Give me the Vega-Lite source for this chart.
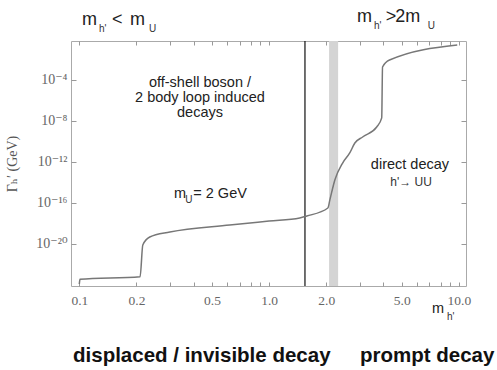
{
  "$schema": "https://vega.github.io/schema/vega-lite/v6.json",
  "autosize": "none",
  "width": 395,
  "height": 245,
  "padding": {"left": 71, "top": 41, "right": 31, "bottom": 84},
  "background": "white",
  "config": {
    "view": {"stroke": "#aaaaaa", "strokeWidth": 1},
    "axis": {"grid": false, "domain": false}
  },
  "datasets": {
    "curve": [
      {"x": 0.1, "y": 1.259e-24},
      {"x": 0.1008, "y": 3.548e-24},
      {"x": 0.209, "y": 6.31e-24},
      {"x": 0.216, "y": 7.94e-21},
      {"x": 0.235, "y": 4.79e-20},
      {"x": 0.30, "y": 1.479e-19},
      {"x": 0.62, "y": 7.08e-19},
      {"x": 1.0, "y": 1.74e-18},
      {"x": 1.45, "y": 3.47e-18},
      {"x": 1.58, "y": 5.37e-18},
      {"x": 2.04, "y": 3.24e-17},
      {"x": 2.09, "y": 2.0e-16},
      {"x": 2.22, "y": 1.74e-14},
      {"x": 2.44, "y": 7.94e-13},
      {"x": 2.66, "y": 7.59e-12},
      {"x": 2.83, "y": 7.08e-11},
      {"x": 3.11, "y": 2.75e-10},
      {"x": 3.69, "y": 2.57e-9},
      {"x": 3.92, "y": 2.0e-8},
      {"x": 3.96, "y": 1.86e-3},
      {"x": 4.31, "y": 8.91e-3},
      {"x": 9.8, "y": 0.26}
    ],
    "bigText": [
      {"x": 0.10333, "y": 23.23, "t": "m"},
      {"x": 0.14873, "y": 23.23, "t": "<"},
      {"x": 0.18494, "y": 23.23, "t": "m"},
      {"x": 2.9022, "y": 45.6, "t": "m"},
      {"x": 4.12, "y": 45.6, "t": ">"},
      {"x": 4.62, "y": 45.6, "t": "2m"}
    ],
    "subText": [
      {"x": 0.12699, "y": 4.82, "t": "h'"},
      {"x": 0.23288, "y": 4.82, "t": "U"},
      {"x": 3.567, "y": 9.46, "t": "h'"},
      {"x": 6.85, "y": 9.46, "t": "U"},
      {"x": 0.3610, "y": 1e-16, "t": "U"},
      {"x": 8.646, "y": 3.85e-28, "t": "h'"}
    ],
    "midLeft": [
      {"x": 0.31536, "y": 3.076e-16, "t": "m"},
      {"x": 0.3985, "y": 3.076e-16, "t": "= 2 GeV"},
      {"x": 7.208, "y": 1.853e-27, "t": "m"}
    ],
    "midCenter": [
      {"x": 0.4323, "y": 2.075e-5, "t": "off-shell boson /"},
      {"x": 0.4323, "y": 7.14e-7, "t": "2 body loop induced"},
      {"x": 0.4323, "y": 2.455e-8, "t": "decays"},
      {"x": 5.521, "y": 2.075e-13, "t": "direct decay"}
    ],
    "smallCenter": [
      {"x": 5.6, "y": 4.56e-15, "t": "h'→ UU"}
    ],
    "boldText": [
      {"x": 0.09265, "y": 3.076e-32, "t": "displaced / invisible decay"},
      {"x": 3.0097, "y": 3.076e-32, "t": "prompt decay"}
    ]
  },
  "resolve": {"axis": {"x": "independent", "y": "independent"}},
  "layer": [
    {
      "data": {"values": [{"lo": 2.07, "hi": 2.31}]},
      "mark": {"type": "rect", "color": "#d4d4d4"},
      "encoding": {
        "x": {"field": "lo", "type": "quantitative", "scale": {"type": "log", "domain": [0.0904, 10.9], "nice": false}, "axis": null},
        "x2": {"field": "hi"}
      }
    },
    {
      "data": {"values": [{"x": 1.545}]},
      "mark": {"type": "rule", "color": "#111111", "strokeWidth": 1.2},
      "encoding": {
        "x": {"field": "x", "type": "quantitative", "scale": {"type": "log", "domain": [0.0904, 10.9], "nice": false}, "axis": null}
      }
    },
    {
      "data": {"name": "curve"},
      "mark": {"type": "line", "color": "#777777", "strokeWidth": 1.5, "interpolate": "monotone"},
      "encoding": {
        "x": {"field": "x", "type": "quantitative", "scale": {"type": "log", "domain": [0.0904, 10.9], "nice": false},
          "axis": {"orient": "bottom", "title": null, "values": [0.1,0.2,0.3,0.4,0.5,0.6,0.7,0.8,0.9,1,2,3,4,5,6,7,8,9,10],
            "labelExpr": "indexof([0.1,0.2,0.5,1,2,5,10], datum.value) >= 0 ? format(datum.value, '.1f') : ''",
            "tickSize": -4, "tickColor": "#999999", "labelPadding": 11, "labelFont": "Liberation Serif", "labelFontSize": 13.5, "labelColor": "#666666", "labelFlush": false}},
        "y": {"field": "y", "type": "quantitative", "scale": {"type": "log", "domain": [7.94e-25, 0.638], "nice": false},
          "axis": {"orient": "left", "title": "Γₕ′ (GeV)", "values": [1e-20, 1e-16, 1e-12, 1e-8, 1e-4],
            "labelExpr": "datum.value < 1e-18 ? '10⁻²⁰' : datum.value < 1e-14 ? '10⁻¹⁶' : datum.value < 1e-10 ? '10⁻¹²' : datum.value < 1e-6 ? '10⁻⁸' : '10⁻⁴'",
            "tickSize": -5, "tickColor": "#999999", "labelPadding": 9, "labelFont": "Liberation Serif, DejaVu Serif", "labelFontSize": 14, "labelColor": "#666666",
            "titleFont": "Liberation Serif, DejaVu Serif", "titleFontSize": 14, "titleFontWeight": "normal", "titleColor": "#555555", "titlePadding": 16}}
      }
    },
    {
      "data": {"name": "curve"},
      "mark": {"type": "point", "opacity": 0},
      "encoding": {
        "x": {"field": "x", "type": "quantitative", "scale": {"type": "log", "domain": [0.0904, 10.9], "nice": false},
          "axis": {"orient": "top", "title": null, "labels": false, "values": [0.1,0.2,0.3,0.4,0.5,0.6,0.7,0.8,0.9,1,2,3,4,5,6,7,8,9,10], "tickSize": -4, "tickColor": "#999999"}},
        "y": {"field": "y", "type": "quantitative", "scale": {"type": "log", "domain": [7.94e-25, 0.638], "nice": false},
          "axis": {"orient": "right", "title": null, "labels": false, "values": [1e-20, 1e-16, 1e-12, 1e-8, 1e-4], "tickSize": -5, "tickColor": "#999999"}}
      }
    },
    {
      "data": {"name": "bigText"},
      "mark": {"type": "text", "align": "left", "baseline": "alphabetic", "font": "Liberation Sans", "fontSize": 18, "color": "#222222"},
      "encoding": {
        "x": {"field": "x", "type": "quantitative", "scale": {"type": "log", "domain": [0.0904, 10.9], "nice": false}, "axis": null},
        "y": {"field": "y", "type": "quantitative", "scale": {"type": "log", "domain": [7.94e-25, 0.638], "nice": false}, "axis": null},
        "text": {"field": "t"}
      }
    },
    {
      "data": {"name": "subText"},
      "mark": {"type": "text", "align": "left", "baseline": "alphabetic", "font": "Liberation Sans", "fontSize": 10, "color": "#333333"},
      "encoding": {
        "x": {"field": "x", "type": "quantitative", "scale": {"type": "log", "domain": [0.0904, 10.9], "nice": false}, "axis": null},
        "y": {"field": "y", "type": "quantitative", "scale": {"type": "log", "domain": [7.94e-25, 0.638], "nice": false}, "axis": null},
        "text": {"field": "t"}
      }
    },
    {
      "data": {"name": "midLeft"},
      "mark": {"type": "text", "align": "left", "baseline": "alphabetic", "font": "Liberation Sans", "fontSize": 14.5, "color": "#222222"},
      "encoding": {
        "x": {"field": "x", "type": "quantitative", "scale": {"type": "log", "domain": [0.0904, 10.9], "nice": false}, "axis": null},
        "y": {"field": "y", "type": "quantitative", "scale": {"type": "log", "domain": [7.94e-25, 0.638], "nice": false}, "axis": null},
        "text": {"field": "t"}
      }
    },
    {
      "data": {"name": "midCenter"},
      "mark": {"type": "text", "align": "center", "baseline": "alphabetic", "font": "Liberation Sans", "fontSize": 14.5, "color": "#222222"},
      "encoding": {
        "x": {"field": "x", "type": "quantitative", "scale": {"type": "log", "domain": [0.0904, 10.9], "nice": false}, "axis": null},
        "y": {"field": "y", "type": "quantitative", "scale": {"type": "log", "domain": [7.94e-25, 0.638], "nice": false}, "axis": null},
        "text": {"field": "t"}
      }
    },
    {
      "data": {"name": "smallCenter"},
      "mark": {"type": "text", "align": "center", "baseline": "alphabetic", "font": "Liberation Sans", "fontSize": 12, "color": "#333333"},
      "encoding": {
        "x": {"field": "x", "type": "quantitative", "scale": {"type": "log", "domain": [0.0904, 10.9], "nice": false}, "axis": null},
        "y": {"field": "y", "type": "quantitative", "scale": {"type": "log", "domain": [7.94e-25, 0.638], "nice": false}, "axis": null},
        "text": {"field": "t"}
      }
    },
    {
      "data": {"name": "boldText"},
      "mark": {"type": "text", "align": "left", "baseline": "alphabetic", "font": "Liberation Sans", "fontSize": 20.5, "fontWeight": "bold", "color": "#111111"},
      "encoding": {
        "x": {"field": "x", "type": "quantitative", "scale": {"type": "log", "domain": [0.0904, 10.9], "nice": false}, "axis": null},
        "y": {"field": "y", "type": "quantitative", "scale": {"type": "log", "domain": [7.94e-25, 0.638], "nice": false}, "axis": null},
        "text": {"field": "t"}
      }
    }
  ]
}
